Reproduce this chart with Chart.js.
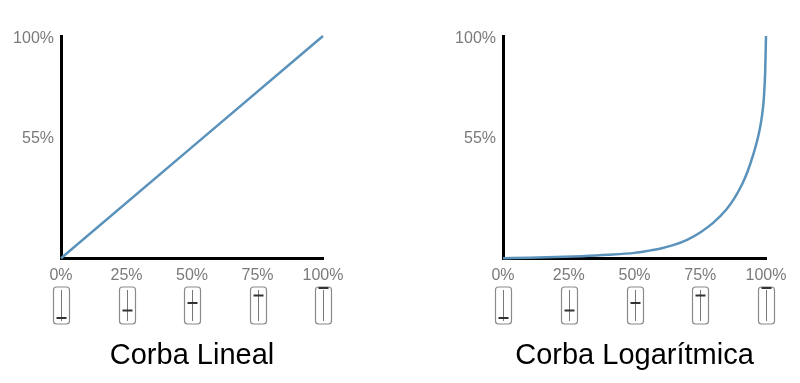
<!DOCTYPE html>
<html>
<head>
<meta charset="utf-8">
<script src="https://cdn.jsdelivr.net/npm/chart.js@4/dist/chart.umd.min.js"></script>
<style>
  html, body { margin: 0; padding: 0; background: #fff; }
  #wrap { position: relative; width: 800px; height: 383px; overflow: hidden; }
  .box { position: absolute; top: 0; width: 400px; height: 383px; }
</style>
</head>
<body>
<div id="wrap">
  <div class="box" style="left:0"><canvas id="c1" width="400" height="383"></canvas></div>
  <div class="box" style="left:400px"><canvas id="c2" width="400" height="383"></canvas></div>
</div>
<script>
// ---- data ----
const xTickValues = [0, 25, 50, 75, 100];
const yTickValues = [55, 100];
const sliderValues = [0, 25, 50, 75, 100];
const linearX = [0, 100];
const linearY = [0, 100];
const logX = [0, 10, 20, 30, 40, 50, 55, 60, 65, 70, 75, 80, 85, 88, 91, 93, 95, 96.5, 97.5, 98.5, 99.2, 99.7, 100];
const logY = [0, 0.2, 0.5, 0.9, 1.5, 2.4, 3.3, 4.4, 6.0, 8.3, 11.6, 16.0, 22.0, 27.0, 33.5, 39.0, 46.0, 52.3, 57.3, 64.3, 72.3, 84.3, 100];
const titles = ['Corba Lineal', 'Corba Logarítmica'];

const LINE_COLOR = '#5a92bb';
const TICK_COLOR = '#7a7a7a';
const FONT = "'Liberation Sans', Arial, sans-serif";

const sliderPlugin = {
  id: 'sliders',
  afterDraw(chart) {
    const ctx = chart.ctx;
    const xs = chart.scales.x;
    const top = 287, bottom = 324, w = 16;
    ctx.save();
    sliderValues.forEach(v => {
      const cx = Math.round(xs.getPixelForValue(v)) + 0.5;
      ctx.strokeStyle = '#8a8a8a';
      ctx.lineWidth = 1.2;
      ctx.beginPath();
      ctx.roundRect(cx - w / 2, top, w, bottom - top, 3);
      ctx.stroke();
      ctx.strokeStyle = '#777';
      ctx.lineWidth = 1;
      ctx.beginPath();
      ctx.moveTo(cx, top + 3);
      ctx.lineTo(cx, bottom - 3);
      ctx.stroke();
      const hy = (bottom - 6) - (v / 100) * (bottom - top - 7);
      ctx.strokeStyle = '#333';
      ctx.lineWidth = 2;
      ctx.beginPath();
      ctx.moveTo(cx - 5, hy);
      ctx.lineTo(cx + 5, hy);
      ctx.stroke();
    });
    ctx.restore();
  }
};

function makeChart(id, xs, ys, title, yAxisWidth, padRight) {
  const pts = xs.map((x, i) => ({ x: x, y: ys[i] }));
  return new Chart(document.getElementById(id), {
    type: 'line',
    data: {
      datasets: [{
        data: pts,
        borderColor: LINE_COLOR,
        borderWidth: 2.5,
        pointRadius: 0,
        fill: false,
        cubicInterpolationMode: 'monotone',
        clip: false
      }]
    },
    options: {
      responsive: false,
      animation: false,
      devicePixelRatio: 1,
      layout: { padding: { top: 36, right: padRight, left: 0, bottom: 0 } },
      plugins: {
        legend: { display: false },
        tooltip: { enabled: false },
        title: {
          display: true,
          text: title,
          position: 'bottom',
          fullSize: false,
          color: '#000',
          font: { family: FONT, size: 29, weight: 'normal', lineHeight: 1.2 },
          padding: { top: 0, bottom: 10 }
        }
      },
      scales: {
        x: {
          type: 'linear',
          min: 0, max: 100,
          afterBuildTicks: s => { s.ticks = xTickValues.map(v => ({ value: v })); },
          afterFit: s => { s.height = 80; },
          grid: { display: false, drawTicks: false },
          border: { display: true, color: '#000', width: 3 },
          ticks: {
            color: TICK_COLOR,
            padding: 8,
            maxRotation: 0,
            font: { family: FONT, size: 16 },
            callback: v => v + '%'
          }
        },
        y: {
          type: 'linear',
          min: 0, max: 100,
          afterBuildTicks: s => { s.ticks = yTickValues.map(v => ({ value: v })); },
          afterFit: s => { s.width = yAxisWidth; },
          grid: { display: false, drawTicks: false },
          border: { display: true, color: '#000', width: 3 },
          ticks: {
            color: TICK_COLOR,
            padding: 7,
            labelOffset: 3,
            font: { family: FONT, size: 16 },
            callback: v => v + '%'
          }
        }
      }
    },
    plugins: [sliderPlugin]
  });
}

makeChart('c1', linearX, linearY, titles[0], 61, 77);
makeChart('c2', logX, logY, titles[1], 103, 34);
</script>
</body>
</html>
